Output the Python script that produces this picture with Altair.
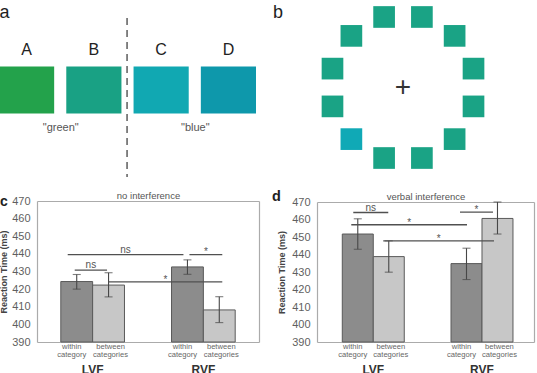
import altair as alt
import pandas as pd

FONT = "Liberation Sans"
W, H = 537, 373

# ---------------- data ----------------
# panel a: the four colour chips and the two colour words
letters = ["A", "B", "C", "D"]
letter_colors = ["#23a24b", "#19a184", "#11a8b2", "#0e98ab"]
category_names = ['"green"', '"blue"']
category_anchor = ["B", "D"]          # word sits in the gap just before this chip
boundary_letter = ["C"]               # dashed category boundary sits before this chip

# panel b: ring of 12 squares (angle clockwise from top), one odd colour
ring_angles = [15, 45, 75, 105, 135, 165, 195, 225, 255, 285, 315, 345]
ring_kind = ["same", "same", "same", "same", "same", "same", "same", "odd",
             "same", "same", "same", "same"]
ring_colors = ["#1aa385", "#10a9b6"]

# panels c and d: reaction times
fields = ["LVF", "RVF"]
conds = ["within", "between"]
cond_text = ["within\ncategory", "between\ncategories"]

c_rt = [424.3, 422.3, 432.6, 408.2]
c_lo = [420.0, 415.6, 428.4, 401.0]
c_hi = [428.3, 429.3, 436.6, 415.7]
c_sig_from = [("LVF", "within"), ("RVF", "within"), ("LVF", "within"), ("LVF", "between")]
c_sig_to = [("RVF", "within"), ("RVF", "between"), ("LVF", "between"), ("RVF", "between")]
c_sig_level = [439.6, 439.6, 430.8, 424.1]
c_sig_text = ["ns", "*", "ns", "*"]

d_rt = [451.7, 438.8, 434.8, 460.6]
d_lo = [443.0, 429.9, 425.7, 451.7]
d_hi = [460.4, 447.8, 443.6, 470.0]
d_sig_from = [("LVF", "within"), ("RVF", "within"), ("LVF", "within"), ("LVF", "between")]
d_sig_to = [("LVF", "between"), ("RVF", "between"), ("RVF", "within"), ("RVF", "between")]
d_sig_level = [464.0, 464.2, 457.0, 447.8]
d_sig_text = ["ns", "*", "*", "*"]

panel_letters = ["a", "b", "c", "d"]

# ---------------- styles ----------------
DARK, LIGHT, EDGE = "#8c8c8c", "#c7c7c7", "#5a5a5a"
ERR, FRAME, SIG = "#474747", "#ababab", "#505050"
COND_LABEL_DX = [-5, 2]   # small horizontal nudge of the under-bar labels

layers = []

# ---------------- panel a ----------------
xa = alt.Scale(type="band", domain=letters, range=[-1, 256], paddingInner=0.18, paddingOuter=0)
a_df = pd.DataFrame({"letter": letters})
layers.append(
    alt.Chart(a_df).mark_rect().encode(
        x=alt.X("letter:N", scale=xa, axis=None),
        y=alt.value(66.5), y2=alt.value(113.5),
        color=alt.Color("letter:N", scale=alt.Scale(domain=letters, range=letter_colors), legend=None),
    )
)
layers.append(
    alt.Chart(a_df).mark_text(font=FONT, fontSize=16, color="#222", baseline="alphabetic").encode(
        x=alt.X("letter:N", scale=xa, axis=None),
        y=alt.value(55),
        text="letter:N",
    )
)
names_df = pd.DataFrame({"anchor": category_anchor, "name": category_names})
layers.append(
    alt.Chart(names_df).mark_text(font=FONT, fontSize=11, color="#555", baseline="alphabetic", dx=-5.5).encode(
        x=alt.X("anchor:N", scale=xa, axis=None, bandPosition=0),
        y=alt.value(131),
        text="name:N",
    )
)
layers.append(
    alt.Chart(pd.DataFrame({"b": boundary_letter})).mark_rule(
        color="#444", strokeWidth=1.3, strokeDash=[7, 5], xOffset=-6.5
    ).encode(
        x=alt.X("b:N", scale=xa, axis=None, bandPosition=0),
        y=alt.value(18), y2=alt.value(177),
    )
)

# ---------------- panel b ----------------
b_df = pd.DataFrame({"angle": ring_angles, "kind": ring_kind})
xb = alt.Scale(domain=[-1, 1], range=[330, 476])
yb = alt.Scale(domain=[-1, 1], range=[160.5, 14.5])
layers.append(
    alt.Chart(b_df).transform_calculate(
        px="sin(datum.angle * PI / 180)", py="cos(datum.angle * PI / 180)"
    ).mark_square(size=470, opacity=1).encode(
        x=alt.X("px:Q", scale=xb, axis=None),
        y=alt.Y("py:Q", scale=yb, axis=None),
        color=alt.Color("kind:N", scale=alt.Scale(domain=["same", "odd"], range=ring_colors), legend=None),
    )
)
layers.append(
    alt.Chart(pd.DataFrame({"k": [0]})).mark_text(
        text="+", font=FONT, fontSize=28, color="#333", baseline="middle"
    ).encode(
        x=alt.XDatum(0, scale=xb, axis=None),
        y=alt.YDatum(0, scale=yb, axis=None),
    )
)


# ---------------- panels c, d ----------------
def bar_panel(rt, lo, hi, sig_from, sig_to, sig_level, sig_text, sig_nudge,
              x0, x1, y0, y1, pi, po, align, title, title_pad):
    out = []
    n = len(fields)
    step = (x1 - x0) / (n - pi + 2 * po)
    bw = step * (1 - pi)
    q = bw / 4.0
    xs = alt.Scale(type="band", domain=fields, range=[x0, x1], paddingInner=pi,
                   paddingOuter=po, align=align)
    ys = alt.Scale(domain=[390, 470], range=[y1, y0], zero=False, nice=False)
    xo = alt.XOffset("cond:N", scale=alt.Scale(type="band", domain=conds, paddingInner=0, paddingOuter=0))
    df = pd.DataFrame({
        "vf": [v for v in fields for _ in conds],
        "cond": conds * n,
        "lab": cond_text * n,
        "rt": rt, "lo": lo, "hi": hi,
    })
    base = alt.Chart(df)

    x_axis = alt.Axis(orient="bottom", offset=y1 - H, title=None, ticks=False, grid=False,
                      domainColor=FRAME, domainWidth=1.2, labelFont=FONT, labelFontSize=12,
                      labelFontWeight="bold", labelColor="#333", labelPadding=22, labelAngle=0)
    y_axis = alt.Axis(orient="left", offset=-x0, values=list(range(390, 471, 10)), ticks=False,
                      grid=False, labelPadding=7, labelFont=FONT, labelFontSize=11,
                      labelColor="#5f5f5f", domainColor=FRAME, domainWidth=1.2,
                      title="Reaction Time (ms)", titleFont=FONT, titleFontSize=9,
                      titleFontWeight="bold", titleColor="#444", titlePadding=title_pad)
    out.append(base.mark_bar(stroke=EDGE, strokeWidth=1).encode(
        x=alt.X("vf:N", scale=xs, axis=x_axis),
        xOffset=xo,
        y=alt.Y("rt:Q", scale=ys, axis=y_axis),
        y2=alt.datum(390),
        color=alt.Color("cond:N", scale=alt.Scale(domain=conds, range=[DARK, LIGHT]), legend=None),
    ))
    # frame (top / right edges) with the panel heading on the top edge
    out.append(base.mark_point(opacity=0).encode(
        x=alt.X("vf:N", scale=xs, axis=alt.Axis(
            orient="top", offset=-y0, labels=False, ticks=False, grid=False, domainColor=FRAME,
            domainWidth=1.2, title=title, titleFont=FONT, titleFontSize=9.5,
            titleFontWeight="normal", titleColor="#555", titlePadding=1)),
        y=alt.Y("rt:Q", scale=ys, axis=alt.Axis(
            orient="right", offset=x1 - W, labels=False, ticks=False, grid=False,
            domainColor=FRAME, domainWidth=1.2, title=None)),
    ))
    # error bars
    out.append(base.mark_rule(color=ERR, strokeWidth=1.1).encode(
        x=alt.X("vf:N", scale=xs, axis=None), xOffset=xo,
        y=alt.Y("lo:Q", scale=ys, axis=None), y2="hi:Q",
    ))
    out.append(base.transform_fold(["lo", "hi"], as_=["end", "val"]).mark_tick(
        color=ERR, size=8, thickness=1.1, orient="horizontal"
    ).encode(
        x=alt.X("vf:N", scale=xs, axis=None), xOffset=xo,
        y=alt.Y("val:Q", scale=ys, axis=None),
    ))
    # condition labels under each bar
    for cnd, ddx in zip(conds, COND_LABEL_DX):
        out.append(base.transform_filter(alt.datum.cond == cnd).mark_text(
            font=FONT, fontSize=7.6, color="#666", lineBreak="\n",
            lineHeight=8, baseline="top", dy=0.5, dx=ddx
        ).encode(
            x=alt.X("vf:N", scale=xs, axis=None), xOffset=xo,
            y=alt.YDatum(390, scale=ys, axis=None),
            text="lab:N",
        ))
    # significance brackets
    one = pd.DataFrame({"k": [0]})
    for (fv, fc), (tv, tc), lvl, txt, (n0, n1) in zip(sig_from, sig_to, sig_level, sig_text, sig_nudge):
        so = (-q if fc == "within" else q) + n0
        eo = (-q if tc == "within" else q) + n1
        gap = step * (fields.index(tv) - fields.index(fv))
        out.append(alt.Chart(one).mark_rule(color=SIG, strokeWidth=1.3, xOffset=so, x2Offset=eo).encode(
            x=alt.XDatum(fv, scale=xs, axis=None),
            x2=alt.X2Datum(tv),
            y=alt.YDatum(lvl, scale=ys, axis=None),
        ))
        out.append(alt.Chart(one).mark_text(
            text=txt, font=FONT, fontSize=10, color="#555", baseline="alphabetic",
            dx=(so + gap + eo) / 2.0, dy=(-2 if txt == "ns" else 0.8),
        ).encode(
            x=alt.XDatum(fv, scale=xs, axis=None),
            y=alt.YDatum(lvl, scale=ys, axis=None),
        ))
    return out


c_nudge = [(-9, -4), (2, 3), (-2, -1.5), (0, 3)]
d_nudge = [(-4.5, -0.5), (-6.5, -4.5), (-6.5, 0.5), (-5.5, -3.5)]

layers += bar_panel(c_rt, c_lo, c_hi, c_sig_from, c_sig_to, c_sig_level, c_sig_text, c_nudge,
                    37, 259, 201, 342, 0.425, 0.215, 0.5, "no interference", 3)
layers += bar_panel(d_rt, d_lo, d_hi, d_sig_from, d_sig_to, d_sig_level, d_sig_text, d_nudge,
                    317, 534, 202, 342, 0.43, 0.213, 0.546, "verbal interference", 5)

# ---------------- panel letters ----------------
letter_pos = {"a": (-0.5, 18, 18, "normal"), "b": (273, 18, 18, "normal"),
              "c": (0, 206, 14, "bold"), "d": (272, 201, 14.5, "bold")}
for p in panel_letters:
    px, py, fs, fw = letter_pos[p]
    layers.append(alt.Chart(pd.DataFrame({"t": [p]})).mark_text(
        font=FONT, fontSize=fs, fontWeight=fw, color="#1e1e1e", align="left", baseline="alphabetic"
    ).encode(x=alt.value(px), y=alt.value(py), text="t:N"))

chart = alt.layer(*layers).resolve_scale(
    x="independent", y="independent", color="independent", xOffset="independent"
).properties(
    width=W, height=H, padding=0, background="white",
    autosize=alt.AutoSizeParams(type="none"),
).configure_view(stroke=None)

chart.save("out.html", embed_options={"renderer": "svg", "actions": False})
